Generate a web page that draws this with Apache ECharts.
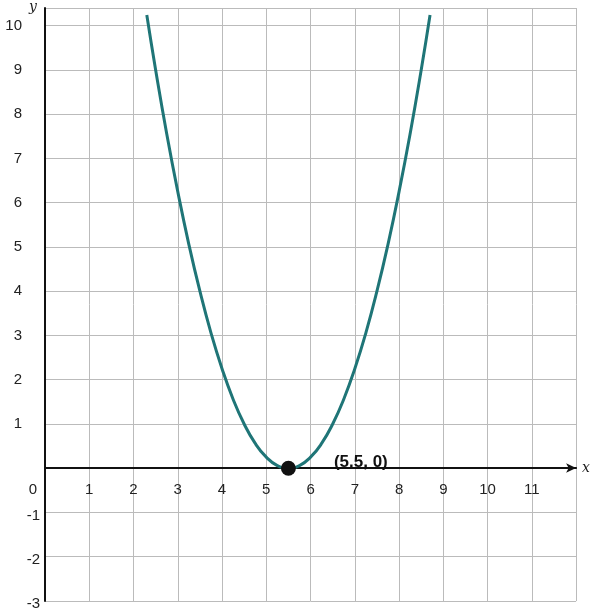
<!DOCTYPE html>
<html>
<head>
<meta charset="utf-8">
<script src="https://cdn.jsdelivr.net/npm/echarts@6/dist/echarts.min.js"></script>
<style>html,body{margin:0;padding:0;background:#fff}#main{width:593px;height:616px}</style>
</head>
<body>
<div id="main"></div>
<script>
// points
var curveX = [2.3, 2.5, 2.75, 3, 3.25, 3.5, 3.75, 4, 4.25, 4.5, 4.75, 5, 5.25, 5.5, 5.75, 6, 6.25, 6.5, 6.75, 7, 7.25, 7.5, 7.75, 8, 8.25, 8.5, 8.7];
var curveY = [10.24, 9, 7.56, 6.25, 5.06, 4, 3.06, 2.25, 1.56, 1, 0.56, 0.25, 0.06, 0, 0.06, 0.25, 0.56, 1, 1.56, 2.25, 3.06, 4, 5.06, 6.25, 7.56, 9, 10.24];
var vertex = [5.5, 0];
var vertexLabel = '(5.5, 0)';

var myChart = echarts.init(document.getElementById('main'));
var font = 'Liberation Sans, Arial, sans-serif';
var option = {
    animation: false,
    grid: { left: 45, right: 15, top: 7, bottom: 15 },
    xAxis: {
        type: 'value', min: 0, max: 12, interval: 1,
        name: 'x', nameGap: 6, offset: -133,
        nameTextStyle: { fontFamily: 'DejaVu Serif', fontStyle: 'italic', fontSize: 14, color: '#222' },
        axisLine: { onZero: false, symbol: ['none', 'arrow'], symbolSize: [7, 10], lineStyle: { color: '#111', width: 2 } },
        axisTick: { show: false },
        axisLabel: {
            margin: 14, color: '#222', fontSize: 15, fontFamily: font,
            formatter: function (v) { return (v === 12) ? '' : v; },
            rich: {}
        },
        splitLine: { show: true, lineStyle: { color: '#bbb', width: 1 } }
    },
    yAxis: {
        type: 'value', min: -3, max: 10.4, interval: 1,
        name: 'y', nameGap: -6, nameLocation: 'end',
        nameTextStyle: { fontFamily: 'DejaVu Serif', fontStyle: 'italic', fontSize: 14, color: '#222', align: 'right', padding: [0, 8, 0, 0] },
        axisLine: { onZero: true, lineStyle: { color: '#111', width: 2 } },
        axisTick: { show: false },
        axisLabel: {
            margin: 5, color: '#222', fontSize: 15, fontFamily: font,
            formatter: function (v) {
                if (v === 0 || v > 10) return '';
                return v > 0 ? '{p|' + v + '}' : '{n|' + v + '}';
            },
            rich: {
                p: { padding: [0, 18, 0, 0], fontSize: 15, fontFamily: font, color: '#222' },
                n: { padding: [6, 0, 0, 0], fontSize: 15, fontFamily: font, color: '#222' }
            }
        },
        splitLine: { show: true, lineStyle: { color: '#bbb', width: 1 } }
    },
    series: [{
        type: 'line', smooth: true, showSymbol: false,
        data: curveX.map(function (x, i) { return [x, curveY[i]]; }),
        lineStyle: { color: '#1f7577', width: 3 }
    }, {
        type: 'scatter', symbolSize: 15,
        data: [vertex],
        itemStyle: { color: '#111', opacity: 1 },
        z: 5,
        label: {
            show: true, position: 'right', distance: 38, offset: [0, -6],
            formatter: vertexLabel, fontWeight: 'bold', fontSize: 17, fontFamily: font, color: '#111'
        }
    }]
};
myChart.setOption(option);
// x-axis "0" label sits left of the y axis
myChart.setOption({ xAxis: { axisLabel: { formatter: function (v) { return v === 12 ? '' : (v === 0 ? '{z|0}' : v); }, rich: { z: { padding: [0, 24, 0, 0], fontSize: 15, fontFamily: font, color: '#222' } } } } });
window.addEventListener('resize', function () { myChart.resize(); });
</script>
</body>
</html>
